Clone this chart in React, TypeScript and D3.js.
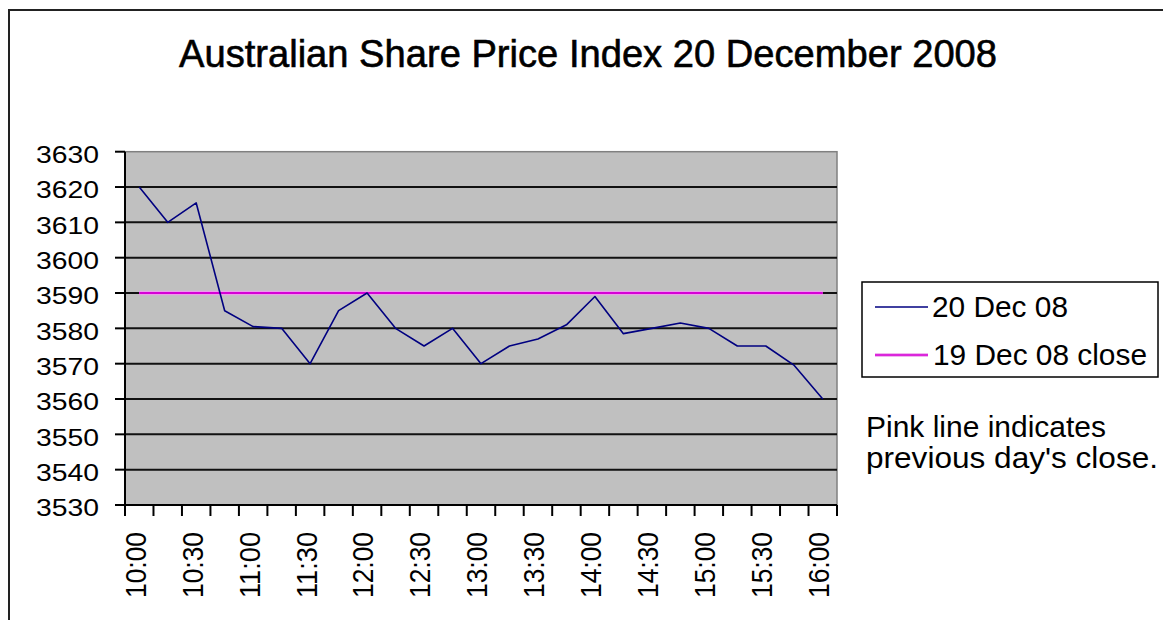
import React from 'react';
import * as d3 from 'd3';

// 15-minute sampling of the index on 20 Dec 2008
const times = [
  '10:00', '10:15', '10:30', '10:45', '11:00', '11:15', '11:30', '11:45',
  '12:00', '12:15', '12:30', '12:45', '13:00', '13:15', '13:30', '13:45',
  '14:00', '14:15', '14:30', '14:45', '15:00', '15:15', '15:30', '15:45', '16:00',
];
const spiValues = [
  3620, 3610, 3615.5, 3585, 3580.5, 3580, 3570, 3585,
  3590, 3580, 3575, 3580, 3570, 3575, 3577, 3581,
  3589, 3578.5, 3580, 3581.5, 3580, 3575, 3575, 3569.5, 3560,
];
const prevClose = [
  3590, 3590, 3590, 3590, 3590, 3590, 3590, 3590,
  3590, 3590, 3590, 3590, 3590, 3590, 3590, 3590,
  3590, 3590, 3590, 3590, 3590, 3590, 3590, 3590, 3590,
];
const yTicks = [3530, 3540, 3550, 3560, 3570, 3580, 3590, 3600, 3610, 3620, 3630];
const xLabels = [
  '10:00', '10:30', '11:00', '11:30', '12:00', '12:30', '13:00',
  '13:30', '14:00', '14:30', '15:00', '15:30', '16:00',
];
const seriesNames = ['20 Dec 08', '19 Dec 08 close'];

const W = 1163;
const H = 620;
const plot = { left: 125, right: 837, top: 151.7, bottom: 505 };
const font = '"Liberation Sans", Arial, sans-serif';
const navy = '#000080';
const pinkHalo = '#eb9deb';
const pink = '#d600d6';

const App: React.FC = () => {
  const x = d3.scaleBand<string>().domain(times).range([plot.left, plot.right]).padding(0);
  const y = d3.scaleLinear().domain([3530, 3630]).range([plot.bottom, plot.top]);
  const cx = (t: string) => (x(t) as number) + x.bandwidth() / 2;

  const line = d3.line<number>()
    .x((_, i) => cx(times[i]))
    .y(d => y(d));

  // category boundaries for the x tick marks
  const boundaries = times.map(t => x(t) as number).concat([plot.right]);

  return (
    <svg width={W} height={H} style={{ position: 'absolute', left: 0, top: 0, background: '#fff' }}>
      <rect x={0} y={0} width={W} height={H} fill="#fff" />
      {/* chart frame, runs off the right and bottom edges */}
      <path d={`M9,${H + 5} V10 H${W + 5}`} fill="none" stroke="#222" strokeWidth={2} />

      <text
        x={588} y={67} textAnchor="middle" fontFamily={font} fontSize={38}
        textLength={818} lengthAdjust="spacingAndGlyphs" fill="#000" stroke="#000" strokeWidth={0.6}
      >
        Australian Share Price Index 20 December 2008
      </text>

      {/* plot area */}
      <rect
        x={plot.left} y={plot.top} width={plot.right - plot.left} height={plot.bottom - plot.top}
        fill="#c0c0c0" stroke="#808080" strokeWidth={1.5}
      />
      {yTicks.slice(1, -1).map(v => (
        <line key={v} x1={plot.left} x2={plot.right} y1={y(v)} y2={y(v)} stroke="#111" strokeWidth={2} />
      ))}

      {/* y axis */}
      <line x1={plot.left} x2={plot.left} y1={plot.top} y2={plot.bottom} stroke="#000" strokeWidth={2} />
      {yTicks.map(v => (
        <g key={v}>
          <line x1={115} x2={plot.left} y1={y(v)} y2={y(v)} stroke="#000" strokeWidth={2} />
          <text
            x={99} y={y(v) + 11.3} textAnchor="end" fontFamily={font} fontSize={23}
            textLength={63} lengthAdjust="spacingAndGlyphs" fill="#000"
          >
            {v}
          </text>
        </g>
      ))}

      {/* x axis */}
      <line x1={plot.left} x2={plot.right} y1={plot.bottom} y2={plot.bottom} stroke="#000" strokeWidth={2} />
      {boundaries.map((bx, i) => (
        <line key={i} x1={bx} x2={bx} y1={plot.bottom} y2={516} stroke="#000" strokeWidth={2} />
      ))}
      {xLabels.map(t => (
        <text
          key={t}
          transform={`translate(${cx(t) - 4}, 532) rotate(-90)`}
          dy="0.358em" textAnchor="end" fontFamily={font} fontSize={29}
          textLength={66} lengthAdjust="spacingAndGlyphs" fill="#000"
        >
          {t}
        </text>
      ))}

      {/* previous close */}
      <path d={line(prevClose) || ''} fill="none" stroke={pinkHalo} strokeWidth={4.5} />
      <path d={line(prevClose) || ''} fill="none" stroke={pink} strokeWidth={1.8} />
      {/* 20 Dec series */}
      <path d={line(spiValues) || ''} fill="none" stroke={navy} strokeWidth={1.6} strokeLinejoin="round" />

      {/* legend */}
      <rect x={862} y={282} width={296} height={95} fill="#fff" stroke="#000" strokeWidth={1.5} />
      <line x1={875} x2={928} y1={307} y2={307} stroke={navy} strokeWidth={1.6} />
      <text x={932} y={316.7} fontFamily={font} fontSize={30} textLength={136} lengthAdjust="spacingAndGlyphs">
        {seriesNames[0]}
      </text>
      <line x1={875} x2={928} y1={355} y2={355} stroke={pinkHalo} strokeWidth={3.5} />
      <line x1={875} x2={928} y1={355} y2={355} stroke={pink} strokeWidth={1.4} />
      <text x={933} y={365} fontFamily={font} fontSize={30} textLength={214} lengthAdjust="spacingAndGlyphs">
        {seriesNames[1]}
      </text>

      <text x={866} y={437} fontFamily={font} fontSize={30} textLength={240} lengthAdjust="spacingAndGlyphs">
        Pink line indicates
      </text>
      <text x={866} y={468} fontFamily={font} fontSize={30} textLength={292} lengthAdjust="spacingAndGlyphs">
        previous day's close.
      </text>
    </svg>
  );
};

export default App;
